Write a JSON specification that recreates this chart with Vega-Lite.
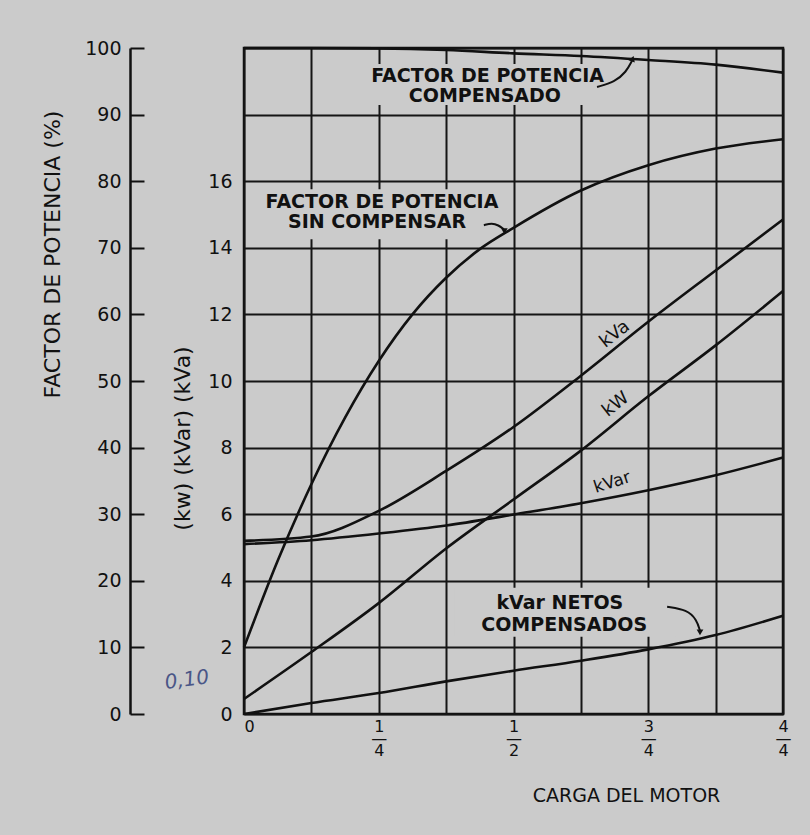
{
  "$schema": "https://vega.github.io/schema/vega-lite/v6.json",
  "width": 539,
  "height": 666,
  "autosize": {"type": "none"},
  "padding": {"left": 244, "top": 48, "right": 27, "bottom": 121},
  "background": "#cbcbcb",
  "config": {
    "view": {"stroke": "#111111", "strokeWidth": 2.5},
    "font": "DejaVu Sans",
    "axis": {"labelColor": "#111111", "titleColor": "#111111", "titleFontWeight": "normal"}
  },
  "datasets": {
    "kw": [
      {"serie": "kVa", "carga": 0, "valor": 5.2},
      {"serie": "kVa", "carga": 0.125, "valor": 5.33},
      {"serie": "kVa", "carga": 0.25, "valor": 6.1},
      {"serie": "kVa", "carga": 0.375, "valor": 7.3},
      {"serie": "kVa", "carga": 0.5, "valor": 8.62},
      {"serie": "kVa", "carga": 0.625, "valor": 10.16},
      {"serie": "kVa", "carga": 0.75, "valor": 11.78},
      {"serie": "kVa", "carga": 0.875, "valor": 13.32},
      {"serie": "kVa", "carga": 1, "valor": 14.85},
      {"serie": "kW", "carga": 0, "valor": 0.45},
      {"serie": "kW", "carga": 0.125, "valor": 1.86},
      {"serie": "kW", "carga": 0.25, "valor": 3.33},
      {"serie": "kW", "carga": 0.375, "valor": 4.97},
      {"serie": "kW", "carga": 0.5, "valor": 6.44},
      {"serie": "kW", "carga": 0.625, "valor": 7.91},
      {"serie": "kW", "carga": 0.75, "valor": 9.54},
      {"serie": "kW", "carga": 0.875, "valor": 11.07},
      {"serie": "kW", "carga": 1, "valor": 12.7},
      {"serie": "kVar", "carga": 0, "valor": 5.1},
      {"serie": "kVar", "carga": 0.125, "valor": 5.22},
      {"serie": "kVar", "carga": 0.25, "valor": 5.42},
      {"serie": "kVar", "carga": 0.375, "valor": 5.66},
      {"serie": "kVar", "carga": 0.5, "valor": 5.99},
      {"serie": "kVar", "carga": 0.625, "valor": 6.33},
      {"serie": "kVar", "carga": 0.75, "valor": 6.72},
      {"serie": "kVar", "carga": 0.875, "valor": 7.17},
      {"serie": "kVar", "carga": 1, "valor": 7.7},
      {"serie": "kVar netos compensados", "carga": 0, "valor": 0},
      {"serie": "kVar netos compensados", "carga": 0.125, "valor": 0.33},
      {"serie": "kVar netos compensados", "carga": 0.25, "valor": 0.63},
      {"serie": "kVar netos compensados", "carga": 0.375, "valor": 0.98},
      {"serie": "kVar netos compensados", "carga": 0.5, "valor": 1.3},
      {"serie": "kVar netos compensados", "carga": 0.625, "valor": 1.6},
      {"serie": "kVar netos compensados", "carga": 0.75, "valor": 1.94},
      {"serie": "kVar netos compensados", "carga": 0.875, "valor": 2.37},
      {"serie": "kVar netos compensados", "carga": 1, "valor": 2.95}
    ],
    "pf": [
      {"serie": "compensado", "carga": 0, "pct": 100},
      {"serie": "compensado", "carga": 0.125, "pct": 100},
      {"serie": "compensado", "carga": 0.25, "pct": 99.95},
      {"serie": "compensado", "carga": 0.375, "pct": 99.7},
      {"serie": "compensado", "carga": 0.5, "pct": 99.2},
      {"serie": "compensado", "carga": 0.625, "pct": 98.8},
      {"serie": "compensado", "carga": 0.75, "pct": 98.2},
      {"serie": "compensado", "carga": 0.875, "pct": 97.5},
      {"serie": "compensado", "carga": 1, "pct": 96.3},
      {"serie": "sin compensar", "carga": 0, "pct": 10},
      {"serie": "sin compensar", "carga": 0.0625, "pct": 23},
      {"serie": "sin compensar", "carga": 0.125, "pct": 34.5},
      {"serie": "sin compensar", "carga": 0.1875, "pct": 44.5},
      {"serie": "sin compensar", "carga": 0.25, "pct": 53},
      {"serie": "sin compensar", "carga": 0.3125, "pct": 60},
      {"serie": "sin compensar", "carga": 0.375, "pct": 65.5},
      {"serie": "sin compensar", "carga": 0.4375, "pct": 69.8},
      {"serie": "sin compensar", "carga": 0.5, "pct": 73},
      {"serie": "sin compensar", "carga": 0.625, "pct": 78.6},
      {"serie": "sin compensar", "carga": 0.75, "pct": 82.4},
      {"serie": "sin compensar", "carga": 0.875, "pct": 84.9},
      {"serie": "sin compensar", "carga": 1, "pct": 86.3}
    ],
    "masks": [
      {"carga": 0.15, "carga2": 0.683, "kw": 18.29, "kw2": 19.52},
      {"carga": 0.015, "carga2": 0.46, "kw": 14.26, "kw2": 15.76},
      {"carga": 0.39, "carga2": 0.8, "kw": 2.32, "kw2": 3.79}
    ],
    "labels": [
      {"grupo": "cap", "texto": "FACTOR DE POTENCIA", "carga": 0.452, "kw": 19.16},
      {"grupo": "cap", "texto": "COMPENSADO", "carga": 0.447, "kw": 18.56},
      {"grupo": "cap", "texto": "FACTOR DE POTENCIA", "carga": 0.256, "kw": 15.37},
      {"grupo": "cap", "texto": "SIN COMPENSAR", "carga": 0.247, "kw": 14.77},
      {"grupo": "cap", "texto": "kVar NETOS", "carga": 0.586, "kw": 3.34},
      {"grupo": "cap", "texto": "COMPENSADOS", "carga": 0.594, "kw": 2.68},
      {"grupo": "steep", "texto": "kVa", "carga": 0.688, "kw": 11.4},
      {"grupo": "steep", "texto": "kW", "carga": 0.69, "kw": 9.29},
      {"grupo": "flat", "texto": "kVar", "carga": 0.683, "kw": 6.95},
      {"grupo": "nota", "texto": "0,10", "carga": -0.106, "kw": 1.02}
    ],
    "arrows": [
      {"id": "a1", "carga": 0.655, "kw": 18.83},
      {"id": "a1", "carga": 0.688, "kw": 18.98},
      {"id": "a1", "carga": 0.709, "kw": 19.28},
      {"id": "a1", "carga": 0.72, "kw": 19.62},
      {"id": "a2", "carga": 0.445, "kw": 14.68},
      {"id": "a2", "carga": 0.46, "kw": 14.74},
      {"id": "a2", "carga": 0.472, "kw": 14.68},
      {"id": "a2", "carga": 0.482, "kw": 14.56},
      {"id": "a3", "carga": 0.785, "kw": 3.22},
      {"id": "a3", "carga": 0.822, "kw": 3.13},
      {"id": "a3", "carga": 0.84, "kw": 2.83},
      {"id": "a3", "carga": 0.846, "kw": 2.5}
    ],
    "heads": [
      {"id": "a1", "carga": 0.721, "kw": 19.68},
      {"id": "a2", "carga": 0.483, "kw": 14.5},
      {"id": "a3", "carga": 0.846, "kw": 2.45}
    ]
  },
  "encoding": {
    "x": {
      "field": "carga",
      "type": "quantitative",
      "scale": {"domain": [0, 1], "nice": false, "zero": false},
      "axis": {
        "orient": "bottom",
        "values": [0, 0.125, 0.25, 0.375, 0.5, 0.625, 0.75, 0.875, 1],
        "grid": true,
        "gridColor": "#151515",
        "gridWidth": 2,
        "gridOpacity": 1,
        "domain": false,
        "ticks": false,
        "labelFlush": false,
        "labelOverlap": false,
        "labelExpr": "datum.value == 0 ? '0' : datum.value == 0.25 ? ['1', '—', '4'] : datum.value == 0.5 ? ['1', '—', '2'] : datum.value == 0.75 ? ['3', '—', '4'] : datum.value == 1 ? ['4', '—', '4'] : ''",
        "labelAlign": {"condition": {"test": "datum.value == 0", "value": "left"}, "value": "center"},
        "labelFontSize": 16,
        "labelLineHeight": 12,
        "labelPadding": 4,
        "title": "CARGA DEL MOTOR",
        "titleFontSize": 19,
        "titleX": 382,
        "titleY": 81,
        "titleAlign": "center",
        "titleBaseline": "middle"
      }
    }
  },
  "resolve": {"scale": {"y": "independent"}, "axis": {"y": "independent"}},
  "layer": [
    {
      "data": {"name": "masks"},
      "mark": {"type": "rect", "fill": "#cbcbcb", "stroke": null},
      "encoding": {
        "x2": {"field": "carga2"},
        "y": {"field": "kw", "type": "quantitative", "scale": {"domain": [0, 20], "nice": false}, "axis": null},
        "y2": {"field": "kw2"}
      }
    },
    {
      "data": {"name": "kw"},
      "mark": {"type": "line", "color": "#111111", "strokeWidth": 2.6, "interpolate": "monotone"},
      "encoding": {
        "detail": {"field": "serie"},
        "y": {
          "field": "valor",
          "type": "quantitative",
          "scale": {"domain": [0, 20], "nice": false},
          "axis": {
            "orient": "left",
            "values": [0, 2, 4, 6, 8, 10, 12, 14, 16, 18, 20],
            "grid": true,
            "gridColor": "#151515",
            "gridWidth": 2,
            "gridOpacity": 1,
            "domain": false,
            "ticks": false,
            "labelOverlap": false,
            "labelExpr": "datum.value <= 16 ? datum.label : ''",
            "labelFontSize": 19,
            "labelPadding": 12,
            "title": "(kw) (kVar) (kVa)",
            "titleFontSize": 22,
            "titleX": -62,
            "titleY": 390,
            "titleAlign": "center",
            "titleBaseline": "middle",
            "titleAngle": -90
          }
        }
      }
    },
    {
      "data": {"name": "pf"},
      "mark": {"type": "line", "color": "#111111", "strokeWidth": 2.6, "interpolate": "monotone"},
      "encoding": {
        "detail": {"field": "serie"},
        "y": {
          "field": "pct",
          "type": "quantitative",
          "scale": {"domain": [0, 100], "nice": false},
          "axis": {
            "orient": "left",
            "offset": 114,
            "values": [0, 10, 20, 30, 40, 50, 60, 70, 80, 90, 100],
            "grid": false,
            "domain": true,
            "domainColor": "#111111",
            "domainWidth": 2.5,
            "ticks": true,
            "tickSize": -14,
            "tickColor": "#111111",
            "tickWidth": 2,
            "labelOverlap": false,
            "labelFontSize": 19,
            "labelPadding": 23,
            "title": "FACTOR DE POTENCIA (%)",
            "titleFontSize": 22,
            "titleX": -78,
            "titleY": 206,
            "titleAlign": "center",
            "titleBaseline": "middle",
            "titleAngle": -90
          }
        }
      }
    },
    {
      "data": {"name": "arrows"},
      "mark": {"type": "line", "color": "#111111", "strokeWidth": 2, "interpolate": "basis"},
      "encoding": {
        "detail": {"field": "id"},
        "y": {"field": "kw", "type": "quantitative", "scale": {"domain": [0, 20], "nice": false}, "axis": null}
      }
    },
    {
      "data": {"name": "heads"},
      "transform": [{"filter": "datum.id == 'a1'"}],
      "mark": {"type": "point", "shape": "triangle-up", "angle": 20, "filled": true, "color": "#111111", "size": 45, "opacity": 1},
      "encoding": {
        "y": {"field": "kw", "type": "quantitative", "scale": {"domain": [0, 20], "nice": false}, "axis": null}
      }
    },
    {
      "data": {"name": "heads"},
      "transform": [{"filter": "datum.id != 'a1'"}],
      "mark": {"type": "point", "shape": "triangle-down", "filled": true, "color": "#111111", "size": 45, "opacity": 1},
      "encoding": {
        "y": {"field": "kw", "type": "quantitative", "scale": {"domain": [0, 20], "nice": false}, "axis": null}
      }
    },
    {
      "data": {"name": "labels"},
      "transform": [{"filter": "datum.grupo == 'cap'"}],
      "mark": {"type": "text", "font": "DejaVu Sans", "fontSize": 19, "fontWeight": "bold", "color": "#111111", "align": "center", "baseline": "middle"},
      "encoding": {
        "text": {"field": "texto"},
        "y": {"field": "kw", "type": "quantitative", "scale": {"domain": [0, 20], "nice": false}, "axis": null}
      }
    },
    {
      "data": {"name": "labels"},
      "transform": [{"filter": "datum.grupo == 'steep'"}],
      "mark": {"type": "text", "font": "DejaVu Sans", "fontSize": 18, "color": "#111111", "align": "center", "baseline": "middle", "angle": -38},
      "encoding": {
        "text": {"field": "texto"},
        "y": {"field": "kw", "type": "quantitative", "scale": {"domain": [0, 20], "nice": false}, "axis": null}
      }
    },
    {
      "data": {"name": "labels"},
      "transform": [{"filter": "datum.grupo == 'flat'"}],
      "mark": {"type": "text", "font": "DejaVu Sans", "fontSize": 17, "color": "#111111", "align": "center", "baseline": "middle", "angle": -18},
      "encoding": {
        "text": {"field": "texto"},
        "y": {"field": "kw", "type": "quantitative", "scale": {"domain": [0, 20], "nice": false}, "axis": null}
      }
    },
    {
      "data": {"name": "labels"},
      "transform": [{"filter": "datum.grupo == 'nota'"}],
      "mark": {"type": "text", "font": "DejaVu Sans", "fontSize": 20, "fontStyle": "italic", "color": "#4a5687", "align": "center", "baseline": "middle", "angle": -8},
      "encoding": {
        "text": {"field": "texto"},
        "y": {"field": "kw", "type": "quantitative", "scale": {"domain": [0, 20], "nice": false}, "axis": null}
      }
    }
  ]
}
